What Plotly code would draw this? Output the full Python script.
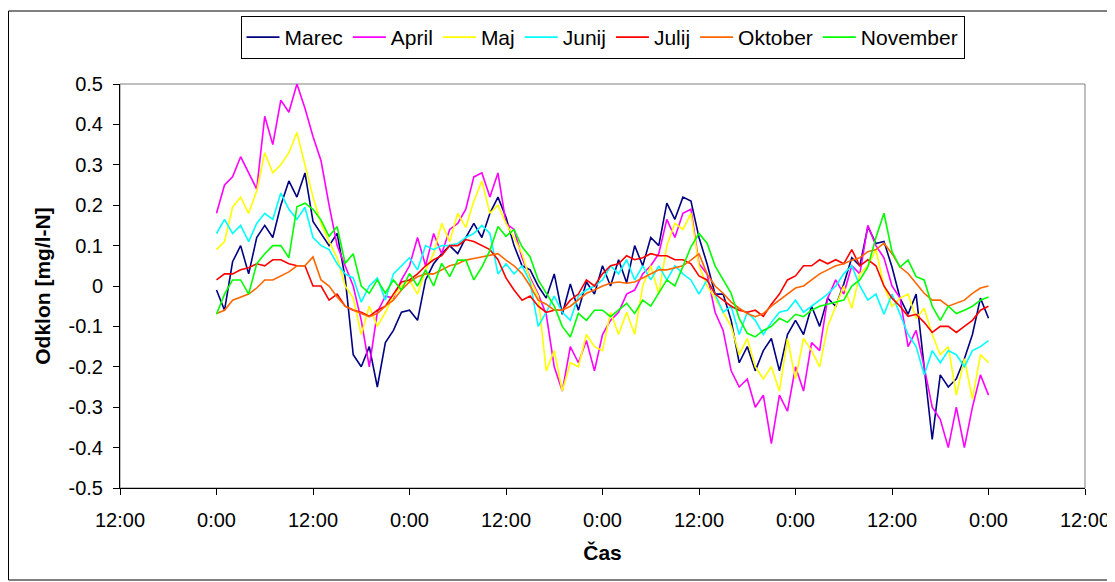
import plotly.graph_objects as go

# time in hours from the first midnight (hourly readings)
hours = list(range(97))

marec = [-0.01, -0.06, 0.06, 0.10, 0.03, 0.12, 0.15, 0.12, 0.20, 0.26,
         0.22, 0.28, 0.16, 0.13, 0.10, 0.13, 0.02, -0.17, -0.20, -0.15,
         -0.25, -0.14, -0.11, -0.065, -0.06, -0.085, 0.015, 0.055, 0.08, 0.10,
         0.08, 0.12, 0.155, 0.12, 0.18, 0.22, 0.17, 0.10, 0.05, 0.04,
         0.00, -0.03, 0.03, -0.07, 0.005, -0.06, 0.01, -0.02, 0.05, 0.00,
         0.065, 0.008, 0.10, 0.05, 0.12, 0.10, 0.205, 0.165, 0.22, 0.21,
         0.12, 0.055, -0.02, -0.02, -0.085, -0.19, -0.15, -0.21, -0.16, -0.13,
         -0.21, -0.12, -0.085, -0.12, -0.05, -0.10, -0.03, -0.05, 0.005, 0.07,
         0.05, 0.147, 0.105, 0.11, 0.047, -0.03, -0.07, -0.02, -0.20, -0.38,
         -0.22, -0.25, -0.23, -0.18, -0.12, -0.03, -0.08]

april = [0.18, 0.25, 0.27, 0.32, 0.28, 0.24, 0.42, 0.35, 0.46, 0.43,
         0.50, 0.44, 0.37, 0.31, 0.20, 0.10, 0.05, 0.00, -0.085, -0.20,
         -0.065, -0.025, -0.03, 0.015, 0.05, 0.12, 0.05, 0.13, 0.08, 0.14,
         0.155, 0.19, 0.27, 0.28, 0.22, 0.28, 0.155, 0.14, 0.07, 0.02,
         -0.02, -0.07, -0.20, -0.26, -0.15, -0.19, -0.135, -0.21, -0.12, -0.085,
         -0.065, -0.02, -0.01, 0.03, 0.05, 0.08, 0.165, 0.12, 0.18, 0.19,
         0.055, 0.03, -0.065, -0.11, -0.21, -0.25, -0.23, -0.30, -0.27, -0.39,
         -0.27, -0.31, -0.20, -0.26, -0.14, -0.16, -0.03, 0.015, -0.02, 0.05,
         0.03, 0.15, 0.10, 0.07, 0.00, -0.03, -0.15, -0.11, -0.20, -0.30,
         -0.33, -0.40, -0.30, -0.40, -0.30, -0.22, -0.27]

maj = [0.09, 0.11, 0.195, 0.22, 0.18, 0.235, 0.33, 0.28, 0.30, 0.33,
       0.38, 0.30, 0.22, 0.155, 0.11, 0.07, 0.00, -0.03, -0.12, -0.05,
       -0.10, -0.065, -0.025, 0.00, 0.015, -0.02, 0.04, 0.08, 0.155, 0.11,
       0.18, 0.145, 0.21, 0.26, 0.18, 0.20, 0.155, 0.12, 0.08, 0.015,
       -0.025, -0.21, -0.16, -0.26, -0.19, -0.20, -0.12, -0.15, -0.16, -0.065,
       -0.12, -0.065, -0.12, 0.00, 0.05, -0.02, 0.10, 0.155, 0.14, 0.18,
       0.05, 0.00, -0.03, -0.065, -0.10, -0.17, -0.13, -0.20, -0.23, -0.20,
       -0.26, -0.13, -0.23, -0.13, -0.16, -0.20, -0.10, -0.05, 0.00, -0.055,
       0.03, 0.05, 0.09, 0.00, -0.05, -0.03, -0.02, -0.08, -0.055, -0.12,
       -0.17, -0.15, -0.27, -0.18, -0.28, -0.17, -0.19]

junij = [0.13, 0.165, 0.13, 0.15, 0.11, 0.155, 0.18, 0.165, 0.23, 0.19,
         0.165, 0.195, 0.12, 0.10, 0.09, 0.055, 0.03, 0.02, -0.04, 0.00,
         0.02, -0.035, 0.03, 0.05, 0.07, 0.04, 0.10, 0.09, 0.10, 0.10,
         0.105, 0.12, 0.13, 0.15, 0.13, 0.03, 0.055, 0.03, 0.05, 0.01,
         -0.10, -0.065, -0.025, -0.065, -0.085, -0.025, -0.01, 0.00, 0.015, 0.05,
         0.03, 0.065, 0.015, 0.05, 0.015, 0.05, 0.015, 0.05, 0.03, 0.015,
         -0.02, 0.015, -0.02, -0.065, -0.05, -0.12, -0.065, -0.085, -0.12, -0.09,
         -0.065, -0.06, -0.035, -0.065, -0.05, -0.035, -0.02, 0.00, 0.03, 0.05,
         0.00, -0.035, -0.02, -0.07, -0.02, -0.07, -0.12, -0.15, -0.22, -0.16,
         -0.19, -0.16, -0.17, -0.20, -0.16, -0.15, -0.135]

julij = [0.015, 0.03, 0.03, 0.04, 0.045, 0.055, 0.05, 0.065, 0.065, 0.055,
         0.05, 0.05, 0.00, 0.00, -0.035, -0.02, -0.05, -0.06, -0.065, -0.075,
         -0.06, -0.05, -0.02, 0.01, 0.015, 0.03, 0.05, 0.065, 0.075, 0.10,
         0.10, 0.115, 0.11, 0.10, 0.09, 0.065, 0.02, -0.01, -0.035, -0.025,
         -0.05, -0.065, -0.06, -0.06, -0.035, -0.02, 0.015, 0.00, 0.03, 0.05,
         0.055, 0.075, 0.065, 0.07, 0.08, 0.075, 0.075, 0.065, 0.065, 0.055,
         0.025, 0.015, -0.02, -0.035, -0.05, -0.06, -0.065, -0.06, -0.075, -0.045,
         -0.02, 0.015, 0.025, 0.05, 0.05, 0.065, 0.055, 0.065, 0.055, 0.09,
         0.05, 0.065, 0.05, 0.00, -0.03, -0.05, -0.075, -0.07, -0.09, -0.115,
         -0.10, -0.10, -0.115, -0.10, -0.085, -0.06, -0.05]

oktober = [-0.068, -0.06, -0.035, -0.027, -0.02, -0.005, 0.015, 0.015, 0.025, 0.035,
           0.05, 0.05, 0.072, 0.015, 0.00, -0.027, -0.05, -0.06, -0.068, -0.076,
           -0.068, -0.05, -0.035, -0.01, 0.01, 0.023, 0.03, 0.03, 0.04, 0.05,
           0.055, 0.064, 0.068, 0.072, 0.075, 0.08, 0.064, 0.05, 0.03, 0.00,
           -0.035, -0.045, -0.06, -0.06, -0.05, -0.035, -0.018, -0.01, 0.00, 0.007,
           0.01, 0.007, 0.01, 0.02, 0.03, 0.04, 0.04, 0.045, 0.05, 0.064,
           0.08, 0.03, 0.00, -0.018, -0.04, -0.055, -0.068, -0.076, -0.068, -0.05,
           -0.035, -0.018, -0.005, 0.00, 0.015, 0.03, 0.04, 0.05, 0.055, 0.064,
           0.07, 0.085, 0.09, 0.106, 0.08, 0.047, 0.031, 0.006, -0.018, -0.035,
           -0.035, -0.05, -0.043, -0.035, -0.018, -0.005, 0.00]

november = [-0.07, -0.02, 0.015, 0.015, -0.02, 0.055, 0.08, 0.10, 0.10, 0.07,
            0.196, 0.205, 0.19, 0.163, 0.123, 0.147, 0.056, 0.08, 0.00, -0.018,
            0.015, -0.018, 0.015, -0.01, 0.031, 0.00, 0.04, 0.00, 0.056, 0.023,
            0.064, 0.064, 0.015, 0.047, 0.088, 0.147, 0.123, 0.14, 0.097, 0.072,
            0.015, -0.018, -0.05, -0.10, -0.126, -0.068, -0.085, -0.06, -0.06, -0.076,
            -0.06, -0.043, -0.068, -0.035, -0.05, -0.018, 0.015, 0.00, 0.047, 0.097,
            0.13, 0.106, 0.05, 0.015, -0.018, -0.08, -0.117, -0.126, -0.11, -0.10,
            -0.08, -0.09, -0.07, -0.076, -0.06, -0.05, -0.045, -0.04, -0.035, 0.00,
            0.015, 0.047, 0.12, 0.18, 0.085, 0.047, 0.064, 0.023, 0.015, -0.05,
            -0.085, -0.05, -0.068, -0.06, -0.05, -0.035, -0.027]

series_names = ["Marec", "April", "Maj", "Junij", "Julij", "Oktober", "November"]
series_values = [marec, april, maj, junij, julij, oktober, november]
series_colors = ["#000080", "#FF00FF", "#FFFF00", "#00FFFF", "#FF0000", "#FF6600", "#00FF00"]

x_tickvals = [-12, 0, 12, 24, 36, 48, 60, 72, 84, 96, 108]
x_ticktext = ["12:00", "0:00", "12:00", "0:00", "12:00", "0:00", "12:00", "0:00", "12:00", "0:00", "12:00"]
y_tickvals = [0.5, 0.4, 0.3, 0.2, 0.1, 0, -0.1, -0.2, -0.3, -0.4, -0.5]
y_ticktext = ["0.5", "0.4", "0.3", "0.2", "0.1", "0", "-0.1", "-0.2", "-0.3", "-0.4", "-0.5"]

FONT = "Liberation Sans, Arial, sans-serif"

# figure geometry (page body adds an 8 px offset)
W, H = 1107, 574
L, R, T, B = 112, 30, 76, 94
PW, PH = W - L - R, H - T - B

fig = go.Figure()
for name, vals, col in zip(series_names, series_values, series_colors):
    fig.add_trace(go.Scatter(x=hours, y=vals, mode="lines", name=name,
                             line=dict(color=col, width=1.6)))

fig.update_layout(
    width=W, height=H,
    paper_bgcolor="white", plot_bgcolor="white",
    margin=dict(l=L, r=R, t=T, b=B, autoexpand=False),
    font=dict(family=FONT, size=20, color="black"),
    showlegend=True,
    legend=dict(orientation="h", x=0.5, xanchor="center", y=1 + (T - 8) / PH, yanchor="top",
                bordercolor="black", borderwidth=1, bgcolor="white",
                font=dict(family=FONT, size=21), itemwidth=33,
                tracegroupgap=0),
    xaxis=dict(range=[-12, 108], tickvals=x_tickvals, ticktext=x_ticktext,
               showgrid=False, zeroline=False, showline=True, linecolor="black",
               linewidth=1, ticks="outside", ticklen=6, tickcolor="black",
               ticklabelstandoff=8,
               tickfont=dict(family=FONT, size=20),
               title=dict(text="<b>Čas</b>", font=dict(family=FONT, size=21), standoff=15)),
    yaxis=dict(range=[-0.5, 0.5], tickvals=y_tickvals, ticktext=y_ticktext,
               showgrid=False, zeroline=False, showline=True, linecolor="black",
               linewidth=1, ticks="outside", ticklen=6, tickcolor="black",
               ticklabelstandoff=6,
               tickfont=dict(family=FONT, size=20),
               title=dict(text="<b>Odklon [mg/l-N]</b>", font=dict(family=FONT, size=21), standoff=12)),
    shapes=[
        dict(type="rect", xref="paper", yref="paper", x0=0, x1=1, y0=0, y1=1,
             line=dict(color="#808080", width=1), layer="below"),
        dict(type="rect", xref="paper", yref="paper",
             x0=(0.5 - L) / PW, x1=(1105 - L) / PW,
             y0=(H - B - 572) / PH, y1=(H - B - 3) / PH,
             line=dict(color="black", width=1)),
    ],
)

fig.write_html("out.html")
